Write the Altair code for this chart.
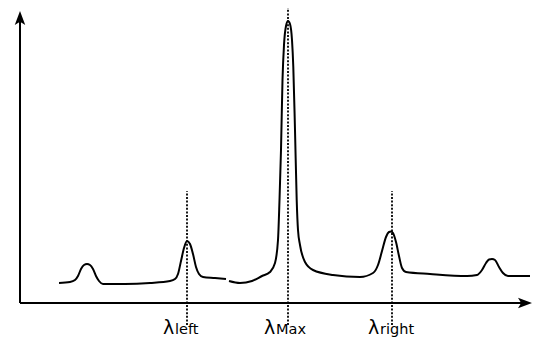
import altair as alt
import pandas as pd

# Spectrum curve (two segments; there is a small gap in the trace)
seg1_x = [39, 50, 55, 58, 61, 64, 67, 70, 73, 76, 79, 83, 105, 130, 150, 155, 158, 161, 164, 167, 170, 173, 176, 179, 183, 195, 206]
seg1_y = [20, 21, 23, 27, 34, 38, 39, 38, 34, 27, 22, 19, 19, 20, 22, 24, 29, 42, 55, 62, 59, 49, 36, 29, 26, 25, 24]

seg2_x = [209, 220, 232, 242, 250, 255, 258, 259.5, 261, 262.5, 264, 266, 268, 270, 272, 273.3, 275, 276.7, 278, 280, 285, 293, 313, 340,
          353, 358, 362, 366, 369, 371, 373, 376, 379, 382, 386, 410, 447, 457, 462, 466, 469, 472, 475, 479, 483, 488, 510]
seg2_y = [22, 20, 22, 27, 31, 40, 63, 103, 153, 223, 258, 277, 282, 279, 263, 236, 173, 103, 73, 58, 41, 33, 28, 26,
          30, 38, 52, 66, 71, 71.5, 70, 61, 47, 35, 31, 29, 27, 28, 33, 40, 43.5, 44, 43, 36, 30, 27, 27]

# Marker lines
marker_x = [167, 268, 372]
marker_top = [112, 296, 112]
marker_bottom = [-22, -22, -22]
marker_sub = ["left", "Max", "right"]

X_DOMAIN = [0, 512]
Y_DOMAIN = [0, 295]

curve = pd.DataFrame(
    {"x": seg1_x + seg2_x,
     "y": seg1_y + seg2_y,
     "seg": [1] * len(seg1_x) + [2] * len(seg2_x),
     "i": list(range(len(seg1_x))) + list(range(len(seg2_x)))}
)
markers = pd.DataFrame({"x": marker_x, "y": marker_bottom, "y2": marker_top,
                        "sub": marker_sub, "lam": ["λ"] * 3, "ty": [-31] * 3})

xs = alt.Scale(domain=X_DOMAIN, nice=False, zero=False)
ys = alt.Scale(domain=Y_DOMAIN, nice=False, zero=False)

line = alt.Chart(curve).mark_line(color="black", strokeWidth=2, interpolate="monotone").encode(
    x=alt.X("x:Q", scale=xs, axis=None),
    y=alt.Y("y:Q", scale=ys, axis=None),
    detail="seg:N",
    order="i:Q",
)

dots = alt.Chart(markers).mark_rule(color="black", strokeWidth=1.8, strokeDash=[2, 1.6]).encode(
    x=alt.X("x:Q", scale=xs, axis=None),
    y=alt.Y("y:Q", scale=ys, axis=None),
    y2="y2:Q",
)

lam = alt.Chart(markers).mark_text(font="DejaVu Sans", fontSize=19, align="left",
                                   baseline="alphabetic", dx=-24, color="black").encode(
    x=alt.X("x:Q", scale=xs, axis=None),
    y=alt.Y("ty:Q", scale=ys, axis=None),
    text="lam:N",
)
sub = alt.Chart(markers).mark_text(font="DejaVu Sans", fontSize=14.5, align="left",
                                   baseline="alphabetic", dx=-12, color="black").encode(
    x=alt.X("x:Q", scale=xs, axis=None),
    y=alt.Y("ty:Q", scale=ys, axis=None),
    text="sub:N",
)

axes_df = pd.DataFrame({"x": [0, 0], "x2": [0, 508], "y": [0, 0], "y2": [285, 0]})
axes = alt.Chart(axes_df).mark_rule(color="black", strokeWidth=2).encode(
    x=alt.X("x:Q", scale=xs, axis=None), x2="x2:Q",
    y=alt.Y("y:Q", scale=ys, axis=None), y2="y2:Q",
)

arrow_up = alt.Chart(pd.DataFrame({"x": [0], "y": [285]})).mark_point(
    shape="M0,-1 L0.75,1 L0,0.55 L-0.75,1 Z", size=196, filled=True, color="black", opacity=1
).encode(x=alt.X("x:Q", scale=xs, axis=None), y=alt.Y("y:Q", scale=ys, axis=None))

arrow_right = alt.Chart(pd.DataFrame({"x": [505], "y": [0]})).mark_point(
    shape="M1,0 L-1,-0.75 L-0.55,0 L-1,0.75 Z", size=196, filled=True, color="black", opacity=1
).encode(x=alt.X("x:Q", scale=xs, axis=None), y=alt.Y("y:Q", scale=ys, axis=None))

chart = alt.layer(axes, arrow_up, arrow_right, dots, line, lam, sub).properties(
    width=512, height=295,
    padding={"left": 12, "top": 0, "right": 0, "bottom": 36},
    autosize=alt.AutoSizeParams(type="none"),
).configure_view(stroke=None)

chart.save("out.html", embed_options={"renderer": "svg", "actions": False})
